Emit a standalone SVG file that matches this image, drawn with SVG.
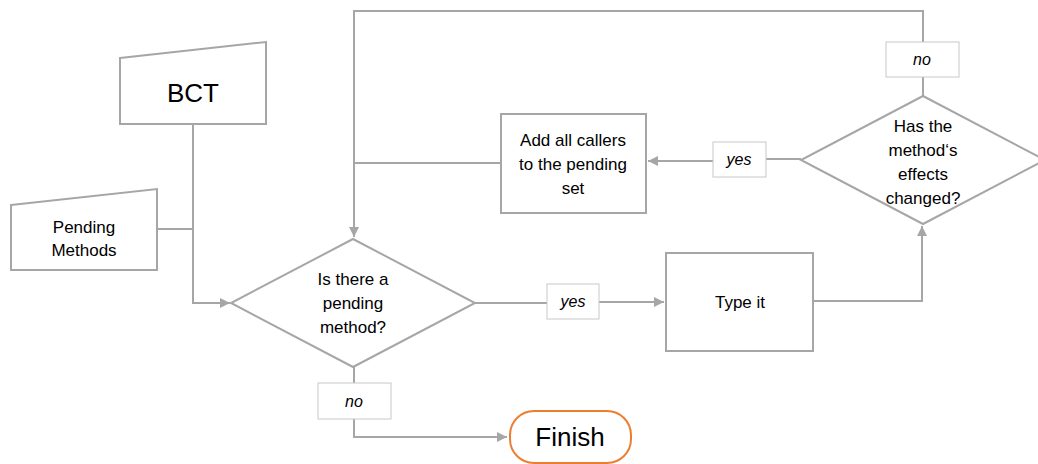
<svg xmlns="http://www.w3.org/2000/svg" width="1038" height="464" viewBox="0 0 1038 464">
<style>
.shape{fill:#fff;stroke:#a6a6a6;stroke-width:2}
.lbl{fill:#fff;stroke:#c8c8c8;stroke-width:1}
.conn{fill:none;stroke:#a6a6a6;stroke-width:2}
text{font-family:"Liberation Sans",Arial,sans-serif;font-size:17px;fill:#000;text-anchor:middle}
.it{font-style:italic;font-size:16px}
.big{font-size:26px}
</style>
<defs>
<marker id="ah" viewBox="0 0 10 10" refX="10" refY="5" markerWidth="5" markerHeight="5" orient="auto" markerUnits="strokeWidth">
<path d="M0,0 L10,5 L0,10 z" fill="#a6a6a6"/>
</marker>
</defs>
<g id="connectors">
<path class="conn" d="M193,124 V303 H230" marker-end="url(#ah)"/>
<path class="conn" d="M157,229 H193"/>
<path class="conn" d="M475,303 H547 M599,302 H664" marker-end="url(#ah)"/>
<path class="conn" d="M813,301 H922 V226" marker-end="url(#ah)"/>
<path class="conn" d="M801,159 H766 M713,161 H648" marker-end="url(#ah)"/>
<path class="conn" d="M923,96 V77 M923,42 V11 H354 V237" marker-end="url(#ah)"/>
<path class="conn" d="M501,163 H354"/>
<path class="conn" d="M354,367 V383 M354,419 V437 H507" marker-end="url(#ah)"/>
</g>
<g id="bct">
<path class="shape" d="M120,58 L266,42 L266,124 L120,124 Z"/>
<text class="big" x="193" y="102">BCT</text>
</g>
<g id="pending-methods">
<path class="shape" d="M11,205 L157,189 L157,270 L11,270 Z"/>
<text x="84" y="233">Pending</text>
<text x="84" y="256">Methods</text>
</g>
<g id="decision-pending">
<path class="shape" d="M353,239 L475,303 L353,367 L231,303 Z"/>
<text x="353" y="285">Is there a</text>
<text x="353" y="309">pending</text>
<text x="353" y="333">method?</text>
</g>
<g id="label-yes-1">
<rect class="lbl" x="547" y="284" width="52" height="35"/>
<text class="it" x="573" y="307">yes</text>
</g>
<g id="type-it">
<rect class="shape" x="666" y="253" width="147" height="98"/>
<text x="740" y="308">Type it</text>
</g>
<g id="decision-changed">
<path class="shape" d="M923,96 L1045,160 L923,224 L801,160 Z"/>
<text x="923" y="132">Has the</text>
<text x="923" y="156">method‘s</text>
<text x="923" y="180">effects</text>
<text x="923" y="204">changed?</text>
</g>
<g id="label-no-top">
<rect class="lbl" x="886" y="42" width="73" height="35"/>
<text class="it" x="922" y="65">no</text>
</g>
<g id="label-yes-2">
<rect class="lbl" x="713" y="142" width="53" height="35"/>
<text class="it" x="739" y="165">yes</text>
</g>
<g id="add-callers">
<rect class="shape" x="501" y="114" width="145" height="99"/>
<text x="573" y="146">Add all callers</text>
<text x="573" y="170">to the pending</text>
<text x="573" y="194">set</text>
</g>
<g id="label-no-bottom">
<rect class="lbl" x="318" y="383" width="73" height="36"/>
<text class="it" x="354" y="407">no</text>
</g>
<g id="finish">
<rect x="510" y="411" width="121" height="52" rx="24" ry="24" fill="#fff" stroke="#ed7d31" stroke-width="2"/>
<text class="big" x="570" y="446">Finish</text>
</g>
</svg>
